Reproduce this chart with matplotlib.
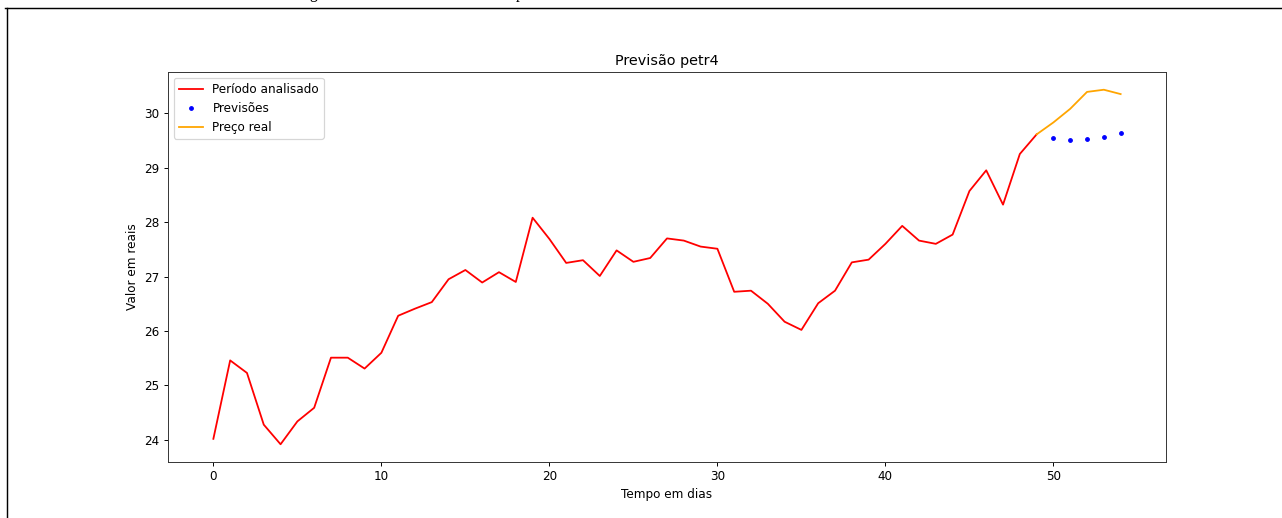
import matplotlib
matplotlib.use('Agg')
import matplotlib.pyplot as plt
from matplotlib.lines import Line2D

# dias 0..49 (periodo analisado)
periodo = [24.02, 25.46, 25.23, 24.28, 23.92, 24.34, 24.59, 25.51, 25.51, 25.31,
           25.60, 26.28, 26.41, 26.53, 26.95, 27.12, 26.89, 27.08, 26.90, 28.08,
           27.69, 27.25, 27.30, 27.01, 27.48, 27.27, 27.34, 27.70, 27.66, 27.55,
           27.51, 26.72, 26.74, 26.50, 26.17, 26.02, 26.51, 26.74, 27.26, 27.31,
           27.60, 27.93, 27.66, 27.60, 27.77, 28.57, 28.95, 28.32, 29.25, 29.61]
dias_periodo = list(range(50))

dias_prev = [50, 51, 52, 53, 54]
previsoes = [29.55, 29.50, 29.52, 29.57, 29.63]

dias_real = [49, 50, 51, 52, 53, 54]
preco_real = [29.61, 29.83, 30.08, 30.39, 30.43, 30.35]

DPI = 86.4
fig = plt.figure(figsize=(1282 / DPI, 518 / DPI), dpi=DPI)
ax = fig.add_axes([168 / 1282, 1 - 462 / 518, (1166 - 168) / 1282, (462 - 72) / 518])

ax.plot(dias_periodo, periodo, color='red', label='Período analisado')
ax.plot(dias_prev, previsoes, 'b.', label='Previsões')
ax.plot(dias_real, preco_real, color='orange', label='Preço real')

ax.set_title('Previsão petr4')
ax.set_xlabel('Tempo em dias')
ax.set_ylabel('Valor em reais')
ax.legend(loc='upper left')
for s in ax.spines.values():
    s.set_edgecolor('#333333')

# moldura do documento (recorte)
fig.add_artist(Line2D([5 / 1282, 1], [1 - 8 / 518, 1 - 8 / 518], color='black', lw=1.2))
fig.add_artist(Line2D([7 / 1282, 7 / 1282], [0, 1 - 8 / 518], color='black', lw=1.2))
# restos do texto cortado acima
fig.text(313 / 1282, 1 + 2 / 518, 'g', family='Liberation Serif', fontsize=13, ha='center', va='baseline')
fig.text(520 / 1282, 1 + 2 / 518, 'p', family='Liberation Serif', fontsize=13, ha='center', va='baseline')

fig.savefig('out.png', dpi=DPI)
